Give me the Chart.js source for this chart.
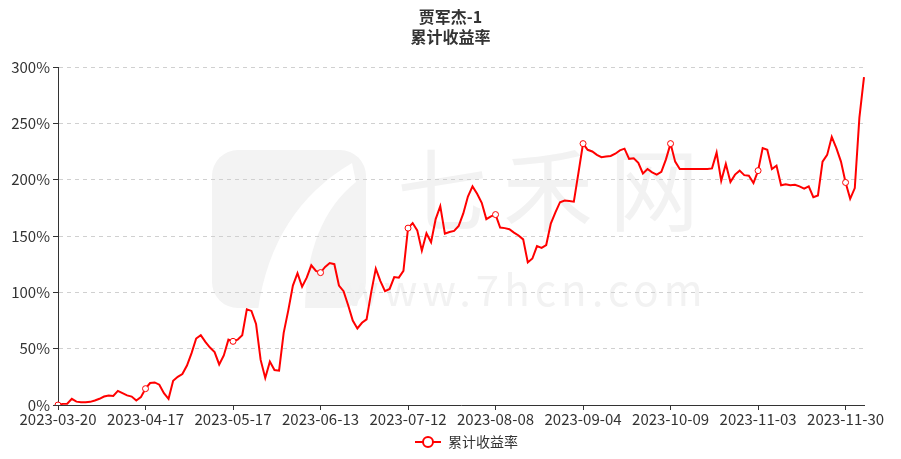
<!DOCTYPE html>
<html>
<head>
<meta charset="utf-8">
<script src="https://cdn.jsdelivr.net/npm/chart.js@4.4.0/dist/chart.umd.min.js"></script>
<style>
  html, body { margin: 0; padding: 0; background: #fff; }
</style>
</head>
<body>
<canvas id="chart" width="901" height="459"></canvas>
<script>
// trading days by month (categories)
const tradeDays = {
    '2023-03': [20, 21, 22, 23, 24, 27, 28, 29, 30, 31],
    '2023-04': [3, 4, 6, 7, 10, 11, 12, 13, 14, 17, 18, 19, 20, 21, 24, 25, 26, 27, 28],
    '2023-05': [4, 5, 8, 9, 10, 11, 12, 15, 16, 17, 18, 19, 22, 23, 24, 25, 26, 29, 30, 31],
    '2023-06': [1, 2, 5, 6, 7, 8, 9, 12, 13, 14, 15, 16, 19, 20, 21, 26, 27, 28, 29, 30],
    '2023-07': [3, 4, 5, 6, 7, 10, 11, 12, 13, 14, 17, 18, 19, 20, 21, 24, 25, 26, 27, 28, 31],
    '2023-08': [1, 2, 3, 4, 7, 8, 9, 10, 11, 14, 15, 16, 17, 18, 21, 22, 23, 24, 25, 28, 29, 30, 31],
    '2023-09': [1, 4, 5, 6, 7, 8, 11, 12, 13, 14, 15, 18, 19, 20, 21, 22, 25, 26, 27, 28],
    '2023-10': [9, 10, 11, 12, 13, 16, 17, 18, 19, 20, 23, 24, 25, 26, 27, 30, 31],
    '2023-11': [1, 2, 3, 6, 7, 8, 9, 10, 13, 14, 15, 16, 17, 20, 21, 22, 23, 24, 27, 28, 29, 30],
    '2023-12': [1, 4, 5, 6]
};

// cumulative return, %
const returns1 = [0, 1, 1.2, 5.5, 3, 2.5, 2.5, 2.8, 4, 5.5, 7.5, 8.5, 8, 12.5, 10.5, 8.5, 7.5, 4, 7, 14.5];
const returns2 = [19.5, 20, 18, 10.5, 5.5, 21.5, 25, 27.5, 35, 46, 59, 62, 56, 51, 47, 36, 44, 58, 56.5];
const returns3 = [58, 62, 85, 83.5, 72, 40, 24, 38.5, 31, 30.5, 64, 84, 106, 117, 105, 113, 124, 119, 117.5];
const returns4 = [122.5, 126, 125, 106, 101, 88.5, 75, 68, 73, 76, 100, 121, 110, 101, 103, 113.5, 113, 119, 157];
const returns5 = [161.5, 155, 137, 152.5, 144.5, 165, 176.5, 152, 153.5, 154.5, 159, 170, 185, 194, 187.5, 179.5, 165, 167.5, 169];
const returns6 = [157.5, 157, 156, 153, 150.5, 147, 126.5, 130, 141, 139.5, 142, 161, 171, 180, 181.5, 181, 180.5, 206, 232];
const returns7 = [226.5, 225, 222, 220, 220.5, 221, 223, 226, 227.5, 218.5, 219, 215, 205.5, 209.5, 206.5, 204.5, 207, 218, 232];
const returns8 = [216, 209.5, 209.5, 209.5, 209.5, 209.5, 209.5, 209.5, 210, 224, 199, 214, 198, 204.5, 208, 204, 203.5, 197, 208];
const returns9 = [228, 226.5, 209.5, 212.5, 195, 196, 195, 195.5, 194, 192, 194, 184.5, 186, 216, 222, 238, 228, 216, 197.5, 183, 192.5, 255, 291];

const yTicks = [0, 50, 100, 150, 200, 250, 300];
const seriesName = '累计收益率';
const titleLines = ['贾军杰-1', '累计收益率'];

const labels = [];
Object.keys(tradeDays).forEach(m => {
    tradeDays[m].forEach(d => labels.push(m + '-' + String(d).padStart(2, '0')));
});
const values = [].concat(returns1, returns2, returns3, returns4, returns5, returns6, returns7, returns8, returns9);

const LABEL_EVERY = 19;
const RED = '#ff0000';
const FONT = '"Noto Sans CJK SC", "Noto Sans", sans-serif';

// legend icon: line with hollow circle (left part left blank to push the item right)
const legendIcon = document.createElement('canvas');
legendIcon.width = 58;
legendIcon.height = 14;
(function () {
    const c = legendIcon.getContext('2d');
    c.strokeStyle = RED;
    c.lineWidth = 2;
    c.beginPath(); c.moveTo(32, 7); c.lineTo(58, 7); c.stroke();
    c.fillStyle = '#fff';
    c.beginPath(); c.arc(45, 7, 5, 0, Math.PI * 2); c.fill(); c.stroke();
})();

// faint site watermark behind the plot
const watermark = {
    id: 'watermark',
    beforeDraw(chart) {
        const ctx = chart.ctx;
        ctx.save();
        ctx.fillStyle = '#f3f3f3';
        ctx.beginPath();
        ctx.roundRect(212, 150, 154, 158, 26);
        ctx.fill();
        ctx.fillStyle = '#fff';
        ctx.beginPath();
        ctx.moveTo(258, 310);
        ctx.quadraticCurveTo(272, 210, 352, 163);
        ctx.lineTo(356, 182);
        ctx.quadraticCurveTo(306, 222, 305, 310);
        ctx.closePath();
        ctx.fill();
        ctx.fillStyle = '#f2f2f2';
        ctx.textAlign = 'left';
        ctx.textBaseline = 'alphabetic';
        ctx.font = '90px ' + FONT;
        if ('letterSpacing' in ctx) ctx.letterSpacing = '16px';
        ctx.fillText('七禾网', 397, 224);
        ctx.font = '42px ' + FONT;
        if ('letterSpacing' in ctx) ctx.letterSpacing = '5px';
        ctx.fillText('www.7hcn.com', 345, 306);
        ctx.restore();
    }
};

new Chart(document.getElementById('chart'), {
    type: 'line',
    data: {
        labels: labels,
        datasets: [{
            label: seriesName,
            data: values,
            borderColor: RED,
            backgroundColor: RED,
            borderWidth: 2,
            tension: 0,
            pointRadius: ctx => ctx.dataIndex % LABEL_EVERY === 0 ? 3 : 0,
            pointBackgroundColor: '#fff',
            pointBorderColor: RED,
            pointBorderWidth: 1
        }]
    },
    options: {
        responsive: false,
        animation: false,
        layout: { padding: { left: 0, right: 0, top: 0, bottom: 0 } },
        plugins: {
            title: {
                display: true,
                text: titleLines,
                color: '#333',
                font: { family: FONT, size: 16, weight: 'bold', lineHeight: 1.25 },
                padding: { top: 7, bottom: 20 }
            },
            legend: {
                position: 'bottom',
                labels: {
                    usePointStyle: true,
                    pointStyle: legendIcon,
                    pointStyleWidth: 58,
                    color: '#333',
                    font: { family: FONT, size: 14 },
                    padding: 7
                }
            },
            tooltip: { enabled: false }
        },
        scales: {
            x: {
                type: 'category',
                offset: false,
                grid: {
                    display: true,
                    drawOnChartArea: false,
                    drawTicks: true,
                    tickLength: 5,
                    tickColor: ctx => ctx.index % LABEL_EVERY === 0 ? '#333' : 'rgba(0,0,0,0)'
                },
                border: { color: '#333', width: 1 },
                ticks: {
                    autoSkip: false,
                    maxRotation: 0,
                    minRotation: 0,
                    color: '#333',
                    font: { family: FONT, size: 15 },
                    padding: 0,
                    callback: (v, i) => i % LABEL_EVERY === 0 ? labels[i] : ''
                },
                afterFit: scale => { scale.height = 23; }
            },
            y: {
                min: yTicks[0],
                max: yTicks[yTicks.length - 1],
                afterBuildTicks: scale => { scale.ticks = yTicks.map(v => ({ value: v })); },
                afterFit: scale => { scale.width = 58; },
                grid: { color: '#d0d0d0', tickColor: '#333', tickLength: 5 },
                border: { color: '#333', width: 1, dash: [4, 4] },
                ticks: {
                    color: '#333',
                    font: { family: FONT, size: 15 },
                    padding: 3,
                    callback: v => v + '%'
                }
            },
            // empty right-hand strip so the title stays centred on the whole canvas
            yRight: {
                position: 'right',
                display: true,
                grid: { display: false },
                border: { display: false },
                ticks: { display: false },
                afterFit: scale => { scale.width = 37; }
            }
        }
    },
    plugins: [watermark]
});
</script>
</body>
</html>
